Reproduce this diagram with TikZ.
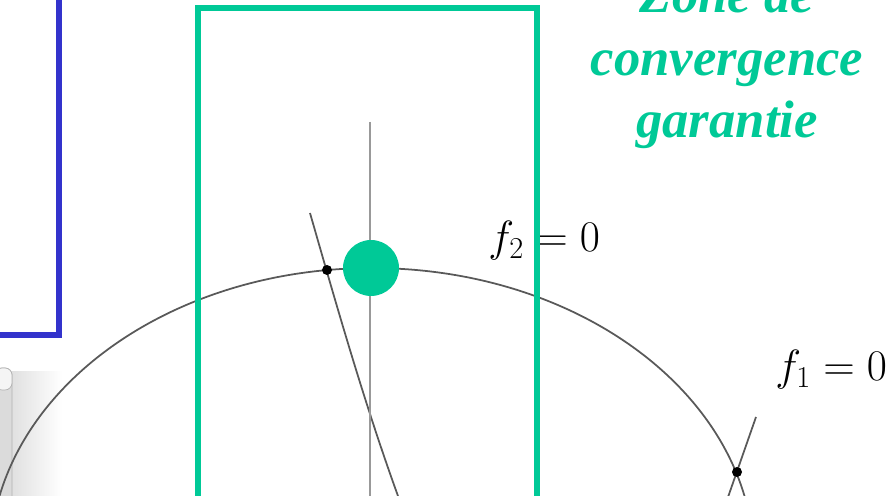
\documentclass[tikz,border=0pt]{standalone}
\usepackage{amsmath, amssymb}
\usepackage{fontspec}
\usetikzlibrary{positioning, calc}

\newfontfamily\zonefont{Liberation Serif}
\definecolor{zonegreen}{RGB}{0,201,151}
\definecolor{boxblue}{RGB}{51,51,204}

\begin{document}
\begin{tikzpicture}[
		x=0.02cm, y=-0.02cm,
		% Styles for the frames
		frame/.style={line width=3.4pt},
		% Style for the curves
		curve/.style={draw=black!65, line width=1pt},
		% Dots on the curves
		soldot/.style={circle, fill=black, inner sep=0pt, minimum size=0.2cm},
		guessdot/.style={circle, fill=zonegreen, inner sep=0pt, minimum size=1.12cm},
		% Style for the curve labels
		curve_label/.style={anchor=base west, inner sep=0pt, font=\fontsize{23}{28}\selectfont}
		]
		
		\clip (0,0) rectangle (890,496);
		
		% ==========================================
		% 1. THE CORNER: window behind the figure
		% ==========================================
		\shade[left color=black!12, right color=white] (12,372) rectangle (62,496);
		\draw[draw=gray!60, fill=gray!28, rounded corners=4pt] (-5,500) |- (12,368) -- (12,500);
		\draw[draw=gray!60, fill=gray!8, rounded corners=4pt] (-5,390) |- (12,368) -- (12,390) -- cycle;
		
		% ==========================================
		% 2. THE CURVES: f_1 = 0 and f_2 = 0
		% ==========================================
		\draw[curve] (372,561) ellipse [x radius=7.64cm, y radius=5.86cm];
		\draw[curve] (310,213) .. controls (337,307) and (364,402) .. (398,496);
		\draw[curve] (756,417) -- (727,500);
		\draw[draw=black!40, line width=1pt] (370,122) -- (370,500);
		
		\node[soldot] (sol1) at (327,270) {};
		\node[soldot] (sol2) at (737,472) {};
		\node[guessdot] (guess) at (371,268) {};
		
		\node[curve_label] (f2) at (488,252) {$f_2 = 0$};
		\node[curve_label] (f1) at (775,381) {$f_1 = 0$};
		
		% ==========================================
		% 3. THE FRAMES: zone boxes
		% ==========================================
		\draw[frame, zonegreen] (198,510) |- (537,8) -- (537,510);
		\draw[frame, boxblue] (-10,335) -| (59,-10);
		
		\node[font=\zonefont\bfseries\itshape\fontsize{30}{35.7}\selectfont, text=zonegreen,
		align=center, anchor=base, inner sep=0pt] (zone) at (727,138) {Zone de\\convergence\\garantie};
		
	\end{tikzpicture}
\end{document}
